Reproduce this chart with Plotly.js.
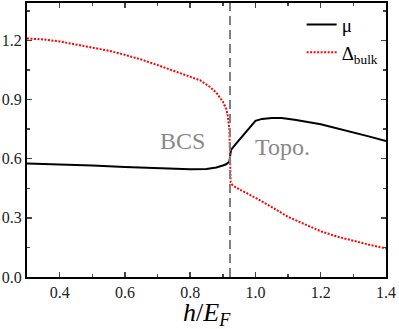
<!DOCTYPE html>
<html>
<head>
<meta charset="utf-8">
<script src="https://cdn.plot.ly/plotly-3.0.1.min.js"></script>
<style>
  html, body { margin: 0; padding: 0; background: #fff; }
  #myDiv { width: 399px; height: 329px; }
</style>
</head>
<body>
<div id="myDiv"></div>
<script>
// chemical potential mu vs h/E_F
var muH = [0.30, 0.40, 0.50, 0.60, 0.70, 0.80, 0.85, 0.88, 0.90, 0.91, 0.92, 0.922, 0.925,
           0.94, 0.96, 0.98, 1.00, 1.02, 1.05, 1.08, 1.12, 1.20, 1.25, 1.30, 1.35, 1.40];
var muVal = [0.576, 0.572, 0.566, 0.558, 0.551, 0.546, 0.548, 0.556, 0.566, 0.572, 0.585, 0.62, 0.645,
             0.675, 0.715, 0.757, 0.792, 0.802, 0.807, 0.806, 0.798, 0.775, 0.755, 0.735, 0.712, 0.69];

// bulk gap
var gapH = [0.30, 0.35, 0.40, 0.45, 0.50, 0.55, 0.60, 0.65, 0.70, 0.75, 0.80, 0.83, 0.86, 0.88,
            0.90, 0.91, 0.915, 0.92, 0.922, 0.924, 0.93, 0.95, 0.98, 1.01, 1.05, 1.10, 1.15,
            1.20, 1.25, 1.30, 1.35, 1.40];
var gapVal = [1.21, 1.205, 1.195, 1.18, 1.165, 1.148, 1.127, 1.103, 1.075, 1.045, 1.015, 0.998, 0.965, 0.935,
              0.89, 0.855, 0.82, 0.75, 0.62, 0.48, 0.465, 0.445, 0.42, 0.393, 0.355, 0.305, 0.268,
              0.232, 0.205, 0.183, 0.163, 0.145];

var transitionH = 0.922;

var serif = '"Times New Roman", "Liberation Serif", serif';

var trace1 = {
    x: muH,
    y: muVal,
    mode: 'lines',
    name: 'μ',
    line: {color: '#000', width: 2}
};

var trace2 = {
    x: gapH,
    y: gapVal,
    mode: 'lines',
    name: 'Δ<sub>bulk</sub>',
    line: {color: '#ff0000', width: 2, dash: '2px,1.5px'}
};

var data = [trace1, trace2];

var layout = {
    width: 399,
    height: 329,
    margin: {l: 27, r: 13, t: 3, b: 52},
    paper_bgcolor: '#fff',
    plot_bgcolor: '#fff',
    font: {family: serif, size: 16, color: '#000'},
    showlegend: true,
    legend: {
        x: 0.765, y: 0.99, xanchor: 'left', yanchor: 'top',
        bgcolor: 'rgba(0,0,0,0)',
        font: {family: serif, size: 19, color: '#000'},
        tracegroupgap: 4
    },
    xaxis: {
        range: [0.3, 1.4],
        dtick: 0.2,
        tick0: 0.4,
        ticks: 'inside',
        ticklen: 5,
        tickwidth: 1.5,
        showline: true,
        linewidth: 2,
        linecolor: '#000',
        mirror: 'allticks',
        showgrid: false,
        zeroline: false,
        tickformat: '.1f',
        tickfont: {family: serif, size: 16, color: '#222'},
        minor: {dtick: 0.1, tick0: 0.3, ticks: 'inside', ticklen: 3, tickwidth: 1.5, showgrid: false}
    },
    yaxis: {
        range: [0, 1.39],
        dtick: 0.3,
        tick0: 0,
        ticks: 'inside',
        ticklen: 5,
        tickwidth: 1.5,
        showline: true,
        linewidth: 2,
        linecolor: '#000',
        mirror: 'allticks',
        showgrid: false,
        zeroline: false,
        tickformat: '.1f',
        tickfont: {family: serif, size: 16, color: '#222'},
        minor: {dtick: 0.15, tick0: 0, ticks: 'inside', ticklen: 3, tickwidth: 1.5, showgrid: false}
    },
    shapes: [{
        type: 'line',
        xref: 'x', yref: 'paper',
        x0: transitionH, x1: transitionH, y0: 0, y1: 1,
        line: {color: '#808080', width: 2, dash: '9px,5px'}
    }],
    annotations: [
        {x: 0.777, y: 0.688, xref: 'x', yref: 'y', text: 'BCS', showarrow: false,
         font: {family: serif, size: 24, color: '#888'}},
        {x: 1.082, y: 0.657, xref: 'x', yref: 'y', text: 'Topo.', showarrow: false,
         font: {family: serif, size: 24, color: '#888'}},
        // x-axis title
        {x: 0.5, y: 0, xref: 'paper', yref: 'paper', yanchor: 'top', yshift: -19,
         text: '<i>h</i>/<i>E</i><sub><i>F</i></sub>', showarrow: false,
         font: {family: serif, size: 26, color: '#000'}}
    ]
};

Plotly.newPlot('myDiv', data, layout, {displayModeBar: false, staticPlot: true});
</script>
</body>
</html>
